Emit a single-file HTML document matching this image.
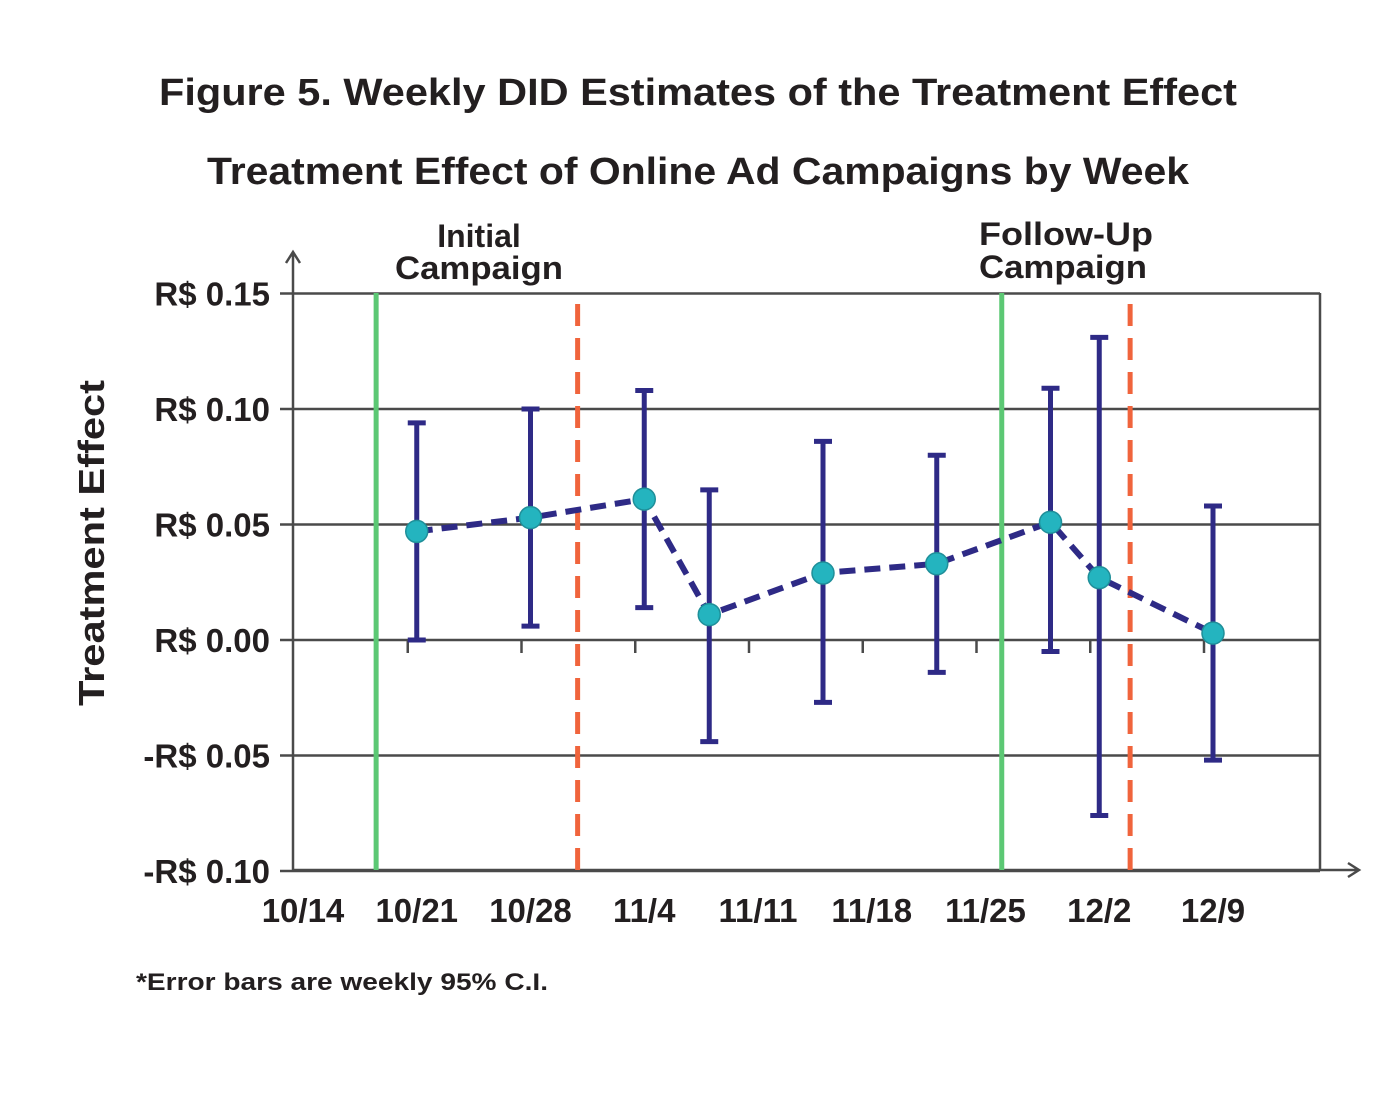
<!DOCTYPE html>
<html><head><meta charset="utf-8"><style>
body{margin:0;background:#fff;}
svg text{font-family:"Liberation Sans",sans-serif;font-weight:bold;fill:#231f20;}
</style></head><body>
<svg id="chart" width="1379" height="1106" xmlns="http://www.w3.org/2000/svg">
<text x="698" y="105" font-size="38" text-anchor="middle" textLength="1078" lengthAdjust="spacingAndGlyphs">Figure 5. Weekly DID Estimates of the Treatment Effect</text>
<text x="698" y="184" font-size="38" text-anchor="middle" textLength="982" lengthAdjust="spacingAndGlyphs">Treatment Effect of Online Ad Campaigns by Week</text>
<text x="479" y="247" font-size="32" text-anchor="middle">Initial</text>
<text x="479" y="279" font-size="32" text-anchor="middle" textLength="168" lengthAdjust="spacingAndGlyphs">Campaign</text>
<text x="1066" y="245" font-size="32" text-anchor="middle" textLength="174" lengthAdjust="spacingAndGlyphs">Follow-Up</text>
<text x="1063" y="278" font-size="32" text-anchor="middle" textLength="168" lengthAdjust="spacingAndGlyphs">Campaign</text>
<text transform="translate(104,543) rotate(-90)" font-size="36" text-anchor="middle" textLength="326" lengthAdjust="spacingAndGlyphs">Treatment Effect</text>
<text x="136" y="990" font-size="24" textLength="412" lengthAdjust="spacingAndGlyphs">*Error bars are weekly 95% C.I.</text>
<g id="grid"></g><g id="marks"></g>
</svg>
<script>
const yTicks=[0.15,0.10,0.05,0.00,-0.05,-0.10];
const yTickLabels=["R$ 0.15","R$ 0.10","R$ 0.05","R$ 0.00","-R$ 0.05","-R$ 0.10"];
const xTickDays=[0,7,14,21,28,35,42,49,56];
const xTickLabels=["10/14","10/21","10/28","11/4","11/11","11/18","11/25","12/2","12/9"];
const pointDays=[7,14,21,25,32,39,46,49,56];
const estimates=[0.047,0.053,0.061,0.011,0.029,0.033,0.051,0.027,0.003];
const upper=[0.094,0.100,0.108,0.065,0.086,0.080,0.109,0.131,0.058];
const lower=[0.000,0.006,0.014,-0.044,-0.027,-0.014,-0.005,-0.076,-0.052];
const campaignStartDays=[4.5,43.0];
const campaignEndDays=[16.9,50.9];
const NS="http://www.w3.org/2000/svg";
const y=v=>640-v*2310;
const x=d=>303+d*16.25;
function mk(tag,attrs,parent){const e=document.createElementNS(NS,tag);for(const k in attrs)e.setAttribute(k,attrs[k]);parent.appendChild(e);return e;}
const g=document.getElementById('grid'),m=document.getElementById('marks');
let e;
yTicks.forEach((v,i)=>{
 e=mk('line',{x1:280,x2:1320,y1:y(v),y2:y(v),stroke:'#4a4a4a','stroke-width':2.5},g);
 
 
 e=mk('text',{x:270,y:y(v)+12,'font-size':33,'text-anchor':'end'},g);e.textContent=yTickLabels[i];
 
 
});
e=mk('path',{d:'M293,870 V253 M286,263 L293,252 L300,263',stroke:'#4a4a4a','stroke-width':2.5,fill:'none'},g);


e=mk('path',{d:'M293,870 H1358 M1348,863 L1359,870 L1348,877',stroke:'#4a4a4a','stroke-width':2.5,fill:'none'},g);


e=mk('line',{x1:1320,x2:1320,y1:293,y2:870,stroke:'#4a4a4a','stroke-width':2.5},g);


xTickDays.forEach((d,i)=>{
 if(i>0){e=mk('line',{x1:x(d)-9,x2:x(d)-9,y1:y(0),y2:y(0)+13,stroke:'#4a4a4a','stroke-width':2.5},g);
 
 }
 e=mk('text',{x:x(d),y:922,'font-size':33,'text-anchor':'middle'},g);e.textContent=xTickLabels[i];
 
 
});
campaignStartDays.forEach(d=>{
 e=mk('line',{x1:x(d),x2:x(d),y1:293,y2:870,stroke:'#5cc874','stroke-width':5},g);
 
 
});
campaignEndDays.forEach(d=>{
 e=mk('line',{x1:x(d),x2:x(d),y1:870,y2:293,stroke:'#f0643c','stroke-width':5,'stroke-dasharray':'22,12'},g);
 
 
});
pointDays.forEach((d,i)=>{
 e=mk('path',{d:`M${x(d)},${y(upper[i])} V${y(lower[i])} M${x(d)-9},${y(upper[i])} h18 M${x(d)-9},${y(lower[i])} h18`,stroke:'#2e2a86','stroke-width':5,fill:'none'},m);
 
 
});
e=mk('polyline',{points:pointDays.map((d,i)=>x(d)+','+y(estimates[i])).join(' '),stroke:'#2e2a86','stroke-width':6,fill:'none','stroke-dasharray':'16,9'},m);


pointDays.forEach((d,i)=>{
 e=mk('circle',{cx:x(d),cy:y(estimates[i]),r:11,fill:'#24b4bf',stroke:'#1f8f99','stroke-width':1.5},m);
 
 
});
</script>
</body></html>
